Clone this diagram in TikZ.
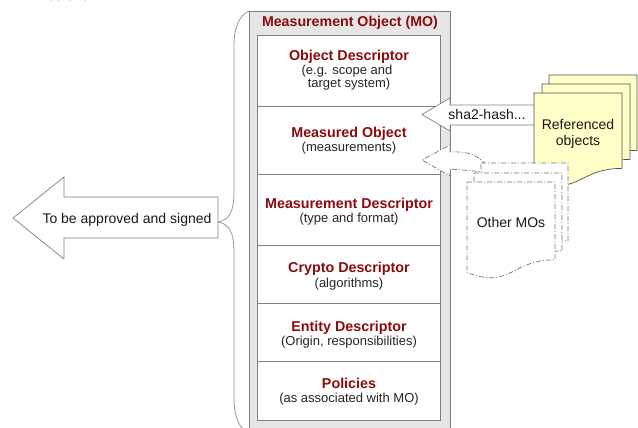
\documentclass[tikz,border=0pt]{standalone}
\usepackage{fontspec}
\setmainfont{Liberation Sans}
\newfontfamily\serifface{Liberation Serif}
\definecolor{mored}{RGB}{140,12,12}
\definecolor{framegrey}{RGB}{128,128,128}
\definecolor{rulegrey}{RGB}{150,150,150}
\definecolor{bandgrey}{RGB}{230,230,230}
\definecolor{docyellow}{RGB}{255,255,200}
\definecolor{docline}{RGB}{80,80,80}
\definecolor{dashgrey}{RGB}{115,115,115}

% flowchart "document" sheet: left, top, width, height, style
\newcommand{\docsheet}[5]{%
  \draw[#5] (#1,#2) -- ({#1+#3},#2) -- ({#1+#3},{#2+0.802*#4})
    .. controls ({#1+0.5*#3},{#2+0.802*#4}) and ({#1+0.5*#3},{#2+1.107*#4})
    .. (#1,{#2+0.934*#4}) -- cycle;}

\begin{document}
\begin{tikzpicture}[x=1pt,y=-1pt,
  rowbox/.style={draw=framegrey, fill=white, rectangle, anchor=north west,
    minimum width=183pt, inner sep=0pt, line width=0.7pt},
  headtext/.style={font=\fontsize{14.3}{16}\selectfont\bfseries, text=mored,
    inner sep=0pt, anchor=base},
  subtext/.style={font=\fontsize{13}{13.5}\selectfont, text=black!85,
    align=center, inner sep=0pt, anchor=base},
  plaintext/.style={font=\fontsize{14}{16}\selectfont, text=black!90,
    inner sep=0pt, anchor=base},
  outline/.style={draw=framegrey, fill=white, line width=0.7pt},
  yellowsheet/.style={draw=docline, fill=docyellow, line width=0.7pt},
  dashsheet/.style={draw=dashgrey, fill=white, line width=0.7pt,
    dash pattern=on 5pt off 2pt on 1pt off 2pt},
  bracestyle/.style={draw=rulegrey, line width=0.8pt}]

\useasboundingbox (0,0) rectangle (638,428);
\clip (0,0) rectangle (638,428);

% line of text running off the top edge
\node[anchor=base west, font=\serifface\bfseries\fontsize{18}{20}\selectfont, inner sep=0pt]
  (toptext) at (48,1) {such.};

% Measurement Object container
\node[draw=framegrey, fill=bandgrey, rectangle, anchor=north west,
  minimum width=201pt, minimum height=425pt, inner sep=0pt, line width=0.7pt]
  (mo) at (249,11) {};
\node[headtext, font=\fontsize{14.2}{16}\selectfont\bfseries] (motitle) at (350,27)
  {Measurement Object (MO)};

% component rows
\node[rowbox, minimum height=71pt] (r1) at (257,35) {};
\node[rowbox, minimum height=68pt] (r2) at (257,106) {};
\node[rowbox, minimum height=71pt] (r3) at (257,174) {};
\node[rowbox, minimum height=58pt] (r4) at (257,245) {};
\node[rowbox, minimum height=58pt] (r5) at (257,303) {};
\node[rowbox, minimum height=59pt] (r6) at (257,361) {};

\node[headtext] (h1) at (349,61) {Object Descriptor};
\node[subtext]  (s1a) at (347,74.5) {(e.g. scope and};
\node[subtext]  (s1b) at (349,88) {target system)};
\node[headtext] (h2) at (349,137) {Measured Object};
\node[subtext]  (s2) at (349,151.5) {(measurements)};
\node[headtext] (h3) at (349,208) {Measurement Descriptor};
\node[subtext]  (s3) at (349,222) {(type and format)};
\node[headtext] (h4) at (349,272) {Crypto Descriptor};
\node[subtext]  (s4) at (349,287) {(algorithms)};
\node[headtext] (h5) at (349,331) {Entity Descriptor};
\node[subtext]  (s5) at (349,345) {(Origin, responsibilities)};
\node[headtext] (h6) at (349,388) {Policies};
\node[subtext]  (s6) at (349,402) {(as associated with MO)};

% brace gathering the whole object
\coordinate (bracetop) at (249,11);
\coordinate (bracetip) at (218,222);
\coordinate (bracebot) at (249,434);
\draw[bracestyle] (bracetop) .. controls (240,15) and (234,26) .. (234,46)
  -- (234,192) .. controls (234,212) and (229,220) .. (bracetip)
  .. controls (229,224) and (234,232) .. (234,252)
  -- (234,398) .. controls (234,418) and (240,429) .. (bracebot);

% block arrow: to be approved and signed
\draw[outline] (bracetip |- 0,197) coordinate (sigtr) -- (64,197) -- (64,177)
  -- (13,218) coordinate (sigtip) -- (64,259) -- (64,238) -- (218,238)
  coordinate (sigbr) -- cycle;
\node[plaintext] (sign) at (127,223) {To be approved and signed};

% block arrow: hash of referenced objects
\draw[outline] (536,105) coordinate (hashtr) -- (450,105) -- (450,98)
  -- (422,114.5) coordinate (hashtip) -- (450,131) -- (450,125) -- (536,125)
  -- cycle;
\node[plaintext] (hash) at (487,120) {sha2-hash...};

% dash-dotted arrow from the other MOs
\draw[dashsheet] (486,165) .. controls (478,155) and (468,151) .. (450,152)
  -- (450,145) -- (422,160) coordinate (othertip) -- (450,176) -- (450,169)
  -- (486,172);

% referenced objects stack
\docsheet{549}{75}{88}{94}{yellowsheet}
\docsheet{542}{84}{88}{94}{yellowsheet}
\docsheet{534}{93}{88}{94}{yellowsheet}
\node[plaintext] (refa) at (578,130) {Referenced};
\node[plaintext] (refb) at (578,146) {objects};

% other measurement objects stack
\docsheet{481}{163}{87}{97}{dashsheet}
\docsheet{474}{173}{88}{97}{dashsheet}
\docsheet{467}{182}{88}{97}{dashsheet}
\node[plaintext] (others) at (511,227) {Other MOs};

\end{tikzpicture}
\end{document}
